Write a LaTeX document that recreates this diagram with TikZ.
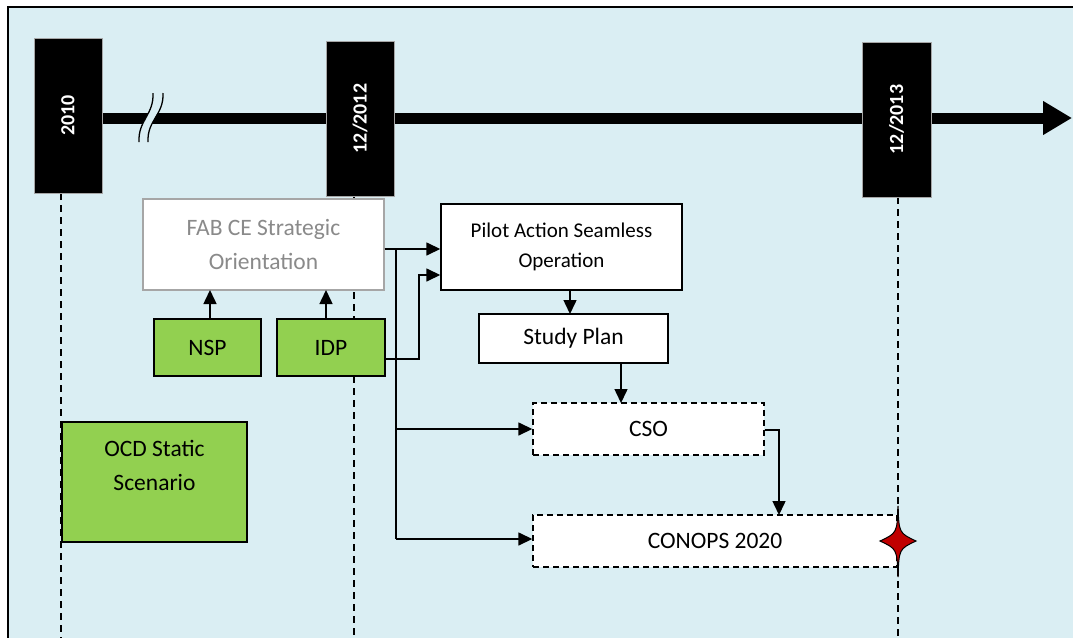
\documentclass[tikz,border=0pt]{standalone}
\usepackage{fontspec}
\setmainfont{Carlito}
\usetikzlibrary{arrows.meta}

\definecolor{bgblue}{HTML}{DAEEF3}
\definecolor{leafgreen}{HTML}{92D050}
\definecolor{softgray}{HTML}{A6A6A6}
\definecolor{textgray}{HTML}{8A8A8A}
\definecolor{starred}{HTML}{C00000}

\tikzset{
  datebox/.style={fill=black, draw=gray!70, line width=0.6pt, minimum width=68pt,
    minimum height=155pt, inner sep=0pt, text=white,
    font=\bfseries\fontsize{20}{24}\selectfont},
  datelabel/.style={rotate=90},
  basebox/.style={draw=black, line width=1.4pt, inner sep=0pt, align=center,
    font=\fontsize{23.5}{34}\selectfont},
  whitebox/.style={basebox, fill=white},
  greenbox/.style={basebox, fill=leafgreen},
  dashbox/.style={basebox, fill=white, dash pattern=on 6pt off 4pt},
  conn/.style={line width=1.5pt, draw=black},
  arr/.style={conn, -{Triangle[length=14pt,width=13pt]}},
  epoch/.style={line width=1.5pt, dash pattern=on 7pt off 5pt},
}

\begin{document}
\begin{tikzpicture}[x=1pt,y=-1pt]
\useasboundingbox (0,0) rectangle (1073,637);
\clip (0,0) rectangle (1073,637);

% panel
\draw[line width=2pt, fill=bgblue] (8,7) rectangle (1090,660);

% epoch markers running down the panel
\draw[epoch] (61,193) -- (61,645);
\draw[epoch] (354,196) -- (354,645);
\draw[epoch] (898,197) -- (898,645);

% time axis with a break
\coordinate (axisstart) at (102,118);
\coordinate (axisend) at (1072,118);
\draw[line width=11pt, -{Triangle[length=29pt,width=32pt]}] (axisstart) -- (axisend);
\fill[bgblue] (153,93) .. controls (154,115) and (138,120) .. (139,142)
  -- (148,142) .. controls (147,120) and (163,115) .. (163,93) -- cycle;
\draw[line width=1.3pt] (153,93) .. controls (154,115) and (138,120) .. (139,142);
\draw[line width=1.3pt] (163,93) .. controls (164,115) and (147,120) .. (148,142);

% date markers
\node[datebox] (d2010) at (68,115.5) {\rotatebox{90}{2010}};
\node[datebox] (d2012) at (360,118.5) {\rotatebox{90}{12/2012}};
\node[datebox, minimum width=69pt] (d2013) at (896.5,119.5) {\rotatebox{90}{12/2013}};

% activities
\node[whitebox, draw=softgray, text=textgray, minimum width=241pt, minimum height=91pt]
  (fab) at (263.5,244.5) {FAB CE Strategic\\Orientation};
\node[whitebox, minimum width=241pt, minimum height=86pt,
  font=\fontsize{21}{30}\selectfont]
  (pilot) at (561.5,247) {Pilot Action Seamless\\Operation};
\node[whitebox, minimum width=189pt, minimum height=49pt]
  (study) at (573.5,338.5) {Study Plan};
\node[greenbox, minimum width=107pt, minimum height=57pt] (nsp) at (207.5,347.5) {NSP};
\node[greenbox, minimum width=108pt, minimum height=57pt] (idp) at (331,347.5) {IDP};
\node[greenbox, minimum width=185pt, minimum height=120pt]
  (ocd) at (154.5,482) {OCD Static\\Scenario\\\mbox{}};
\node[dashbox, minimum width=231pt, minimum height=52pt] (cso) at (648.5,429) {CSO};
\node[dashbox, minimum width=364pt, minimum height=52pt] (conops) at (715,541) {CONOPS 2020};

% dependencies
\draw[arr] (210,319) -- (210,290);
\draw[arr] (326,319) -- (326,290);
\draw[arr] (fab.east |- 0,249) -- (pilot.west |- 0,249);
\draw[arr] (idp.east |- 0,359) -- (419,359) -- (419,275) -- (pilot.west |- 0,275);
\draw[conn] (fab.east |- 0,249) -- (396,249) -- (396,539);
\draw[arr] (396,429) -- (cso.west);
\draw[arr] (396,539) -- (conops.west |- 0,539);
\draw[arr] (570,290) -- (570,314);
\draw[arr] (621,363) -- (621,403);
\draw[arr] (cso.east |- 0,430) -- (779,430) -- (779,515);

% milestone star
\node[inner sep=0pt] (star) at (898,541) {};
\draw[fill=starred, line width=1pt]
  (898,506) .. controls (899,533) .. (916,541)
  .. controls (899,549) .. (898,577)
  .. controls (897,549) .. (880,541)
  .. controls (897,533) .. cycle;
\end{tikzpicture}
\end{document}
